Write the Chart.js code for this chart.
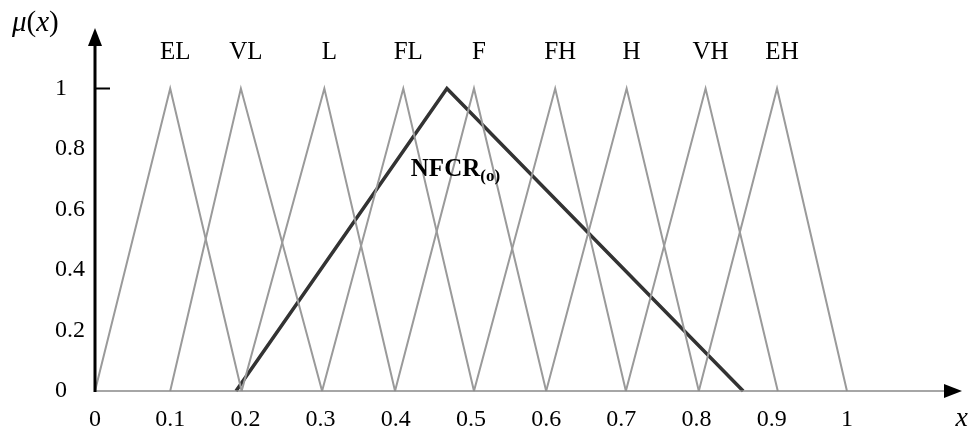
<!DOCTYPE html>
<html>
<head>
<meta charset="utf-8">
<script src="https://cdn.jsdelivr.net/npm/chart.js@4.4.1/dist/chart.umd.min.js"></script>
<style>
    body { margin: 0; background: #fff; }
    #wrap { width: 972px; height: 430px; }
</style>
</head>
<body>
<div id="wrap"><canvas id="fuzzyChart"></canvas></div>
<script>
// =================== data =======================
const termNames = ['EL', 'VL', 'L', 'FL', 'F', 'FH', 'H', 'VH', 'EH'];
// left foot, peak, right foot of every gray triangle
const termLeft  = [0,     0.1,   0.195, 0.302, 0.399, 0.504, 0.6,   0.706, 0.803];
const termPeak  = [0.1,   0.194, 0.305, 0.41,  0.504, 0.612, 0.707, 0.812, 0.907];
const termRight = [0.195, 0.302, 0.399, 0.504, 0.6,   0.706, 0.803, 0.908, 1.0];

// NFCR(o) triangle: left foot, peak, right foot
const nfcrPoints = [0.1875, 0.468, 0.862];

const xTicks = [0, 0.1, 0.2, 0.3, 0.4, 0.5, 0.6, 0.7, 0.8, 0.9, 1];
const yTicks = [0, 0.2, 0.4, 0.6, 0.8, 1];
// =================== END DATA ===================

const SERIF = '"Liberation Serif", "Times New Roman", serif';

function triangle(l, p, r) {
    return [{x: l, y: 0}, {x: p, y: 1}, {x: r, y: 0}];
}

function buildDatasets() {
    let sets = termNames.map((name, i) => ({
        label: name,
        data: triangle(termLeft[i], termPeak[i], termRight[i]),
        showLine: true,
        borderColor: '#9a9a9a',
        borderWidth: 2,
        pointRadius: 0,
        borderJoinStyle: 'miter',
        clip: false
    }));
    sets.push({
        label: 'NFCR(o)',
        data: triangle(nfcrPoints[0], nfcrPoints[1], nfcrPoints[2]),
        showLine: true,
        borderColor: '#333333',
        borderWidth: 3.5,
        pointRadius: 0,
        borderJoinStyle: 'miter',
        clip: false
    });
    return sets;
}

// axes with arrows, term names, NFCR label, axis titles
const fuzzyDecor = {
    id: 'fuzzyDecor',
    afterDraw(chart) {
        const ctx = chart.ctx;
        const sx = chart.scales.x, sy = chart.scales.y;
        const area = chart.chartArea;
        const x0 = sx.getPixelForValue(0);
        const y0 = sy.getPixelForValue(0);
        ctx.save();

        // x axis (gray) + arrow
        ctx.strokeStyle = '#888';
        ctx.lineWidth = 1.5;
        ctx.beginPath();
        ctx.moveTo(x0, y0);
        ctx.lineTo(area.right - 14, y0);
        ctx.stroke();
        ctx.fillStyle = '#000';
        ctx.beginPath();
        ctx.moveTo(area.right, y0);
        ctx.lineTo(area.right - 18, y0 - 7);
        ctx.lineTo(area.right - 18, y0 + 7);
        ctx.closePath();
        ctx.fill();

        // y axis (black) + arrow
        ctx.strokeStyle = '#000';
        ctx.lineWidth = 3;
        ctx.beginPath();
        ctx.moveTo(x0, y0 + 1);
        ctx.lineTo(x0, area.top + 14);
        ctx.stroke();
        ctx.beginPath();
        ctx.moveTo(x0, area.top);
        ctx.lineTo(x0 - 7, area.top + 18);
        ctx.lineTo(x0 + 7, area.top + 18);
        ctx.closePath();
        ctx.fill();

        // tick at mu = 1
        const y1 = sy.getPixelForValue(1);
        ctx.lineWidth = 2;
        ctx.beginPath();
        ctx.moveTo(x0, y1);
        ctx.lineTo(x0 + 15, y1);
        ctx.stroke();

        // term names above the peaks
        ctx.fillStyle = '#000';
        ctx.font = '25px ' + SERIF;
        ctx.textAlign = 'center';
        ctx.textBaseline = 'middle';
        termNames.forEach((name, i) => {
            ctx.fillText(name, sx.getPixelForValue(termPeak[i]) + 5, sy.getPixelForValue(1.12));
        });

        // NFCR(o)
        ctx.textAlign = 'left';
        ctx.textBaseline = 'alphabetic';
        ctx.font = 'bold 25px ' + SERIF;
        const nx = sx.getPixelForValue(0.42);
        const ny = sy.getPixelForValue(0.71);
        ctx.fillText('NFCR', nx, ny);
        const w = ctx.measureText('NFCR').width;
        ctx.font = 'bold 17px ' + SERIF;
        ctx.fillText('(o)', nx + w, ny + 5);

        // mu(x) and x
        let px = 12;
        const py = 31;
        const parts = [['italic ', 'μ'], ['', '('], ['italic ', 'x'], ['', ')']];
        parts.forEach(p => {
            ctx.font = p[0] + '29px ' + SERIF;
            ctx.fillText(p[1], px, py);
            px += ctx.measureText(p[1]).width;
        });
        ctx.font = 'italic 28px ' + SERIF;
        ctx.textAlign = 'right';
        ctx.fillText('x', area.right + 6, 426);

        ctx.restore();
    }
};

function membershipChart() {
    const ctx = document.getElementById('fuzzyChart');
    const myChart = new Chart(ctx, {
        type: 'scatter',
        data: { datasets: buildDatasets() },
        options: {
            responsive: true,
            maintainAspectRatio: false,
            animation: false,
            layout: { padding: { left: 55, right: 10, top: 28, bottom: 0 } },
            plugins: {
                legend: { display: false },
                tooltip: { enabled: false }
            },
            scales: {
                x: {
                    type: 'linear',
                    min: 0,
                    max: 1.153,
                    grid: { display: false, drawTicks: false },
                    border: { display: false },
                    afterBuildTicks: s => { s.ticks = xTicks.map(v => ({value: v})); },
                    afterFit: s => { s.height = 39; },
                    ticks: {
                        color: '#000',
                        padding: 14,
                        maxRotation: 0,
                        autoSkip: false,
                        font: { family: SERIF, size: 24 },
                        callback: v => String(v)
                    }
                },
                y: {
                    type: 'linear',
                    min: 0,
                    max: 1.2,
                    grid: { display: false, drawTicks: false },
                    border: { display: false },
                    afterBuildTicks: s => { s.ticks = yTicks.map(v => ({value: v})); },
                    afterFit: s => { s.width = 40; },
                    ticks: {
                        color: '#000',
                        crossAlign: 'far',
                        autoSkip: false,
                        font: { family: SERIF, size: 24 },
                        callback: v => String(v)
                    }
                }
            }
        },
        plugins: [fuzzyDecor]
    });
    return myChart;
}

membershipChart();
</script>
</body>
</html>
